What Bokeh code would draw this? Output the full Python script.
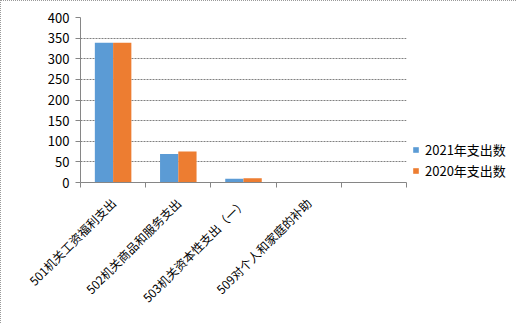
from bokeh.plotting import figure
from bokeh.models import ColumnDataSource, FixedTicker, Legend, LegendItem, Range1d
from bokeh.transform import dodge
from bokeh.embed import file_html
from bokeh.resources import INLINE
import math

categories = ["501机关工资福利支出", "502机关商品和服务支出", "503机关资本性支出（一）", "509对个人和家庭的补助"]
values_2021 = [339, 69, 9, 1]
values_2020 = [339, 75, 10.5, 0]
series_names = ["2021年支出数", "2020年支出数"]
colors = ["#5B9BD5", "#ED7D31"]
y_ticks = [0, 50, 100, 150, 200, 250, 300, 350, 400]
n_slots = 5  # the chart reserves one empty category slot at the right

FONT = "Noto Sans CJK SC"

xs = [i + 0.5 for i in range(len(categories))]
src = ColumnDataSource(dict(x=xs, v2021=values_2021, v2020=values_2020))

p = figure(frame_width=326, frame_height=165, output_backend="svg", toolbar_location=None,
           x_range=Range1d(0, n_slots), y_range=Range1d(0, 400),
           min_border_left=79, min_border_right=112, min_border_top=16, min_border_bottom=142)
p.styles = {"border": "1px dotted #9a9a9a", "box-sizing": "border-box"}
p.outline_line_color = None
p.background_fill_color = "white"

r1 = p.vbar(x=dodge("x", -0.14, range=p.x_range), top="v2021", width=0.28, source=src,
            fill_color=colors[0], line_color=None)
r2 = p.vbar(x=dodge("x", 0.14, range=p.x_range), top="v2020", width=0.28, source=src,
            fill_color=colors[1], line_color=None)

# x axis
xa = p.xaxis[0]
xa.ticker = FixedTicker(ticks=xs, minor_ticks=list(range(n_slots + 1)))
xa.major_label_overrides = {x: c for x, c in zip(xs, categories)}
xa.major_label_orientation = math.pi / 4
xa.major_tick_line_color = None
xa.minor_tick_in = 0
xa.minor_tick_out = 5
xa.minor_tick_line_color = "#868686"
xa.axis_line_color = "#868686"
xa.major_label_text_font = FONT
xa.major_label_text_font_size = "12px"
xa.major_label_text_color = "black"
xa.major_label_standoff = 12

# y axis
ya = p.yaxis[0]
ya.ticker = FixedTicker(ticks=y_ticks, minor_ticks=[])
ya.major_tick_in = 0
ya.major_tick_out = 5
ya.major_tick_line_color = "#868686"
ya.axis_line_color = "#868686"
ya.major_label_text_font = FONT
ya.major_label_text_font_size = "13px"
ya.major_label_text_color = "black"
ya.major_label_standoff = 6

p.xgrid.grid_line_color = None
p.ygrid.ticker = FixedTicker(ticks=y_ticks)
p.ygrid.grid_line_color = "#808080"
p.ygrid.grid_line_dash = "2 1"
p.ygrid.grid_line_width = 1

legend = Legend(items=[LegendItem(label=series_names[0], renderers=[r1]),
                       LegendItem(label=series_names[1], renderers=[r2])],
                location=(6, 2))
legend.border_line_color = None
legend.background_fill_alpha = 0
legend.padding = 0
legend.margin = 0
legend.glyph_width = 7
legend.glyph_height = 7
legend.label_height = 13
legend.spacing = 2
legend.label_standoff = 6
legend.label_text_font = FONT
legend.label_text_font_size = "13px"
legend.label_text_color = "black"
p.add_layout(legend, "right")

open("out.html", "w").write(file_html(p, INLINE))
